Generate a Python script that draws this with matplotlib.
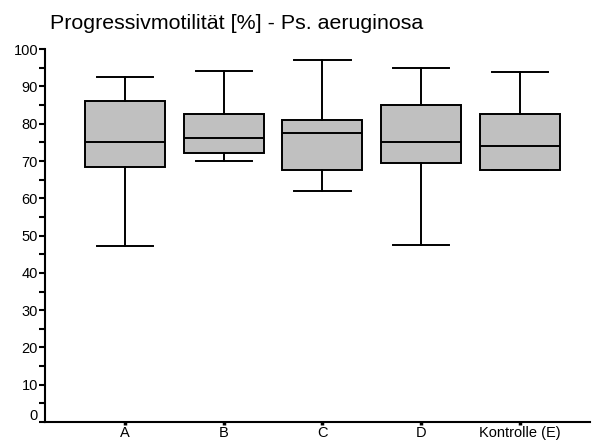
import matplotlib
matplotlib.use("Agg")
import matplotlib.pyplot as plt
import matplotlib.transforms as mtransforms

plt.rcParams['font.family'] = ['Liberation Sans', 'DejaVu Sans']

categories = ["A", "B", "C", "D", "Kontrolle (E)"]
whisker_low = [47.2, 70.0, 62.0, 47.5, 67.6]
q1 = [68.5, 72.1, 67.5, 69.6, 67.6]
median = [75.1, 76.1, 77.5, 75.1, 74.0]
q3 = [86.0, 82.6, 81.0, 85.0, 82.7]
whisker_high = [92.5, 94.1, 97.0, 95.0, 94.0]

stats = []
for i, c in enumerate(categories):
    stats.append(dict(label=c, whislo=whisker_low[i], q1=q1[i], med=median[i],
                      q3=q3[i], whishi=whisker_high[i], fliers=[]))

fig = plt.figure(figsize=(5.99, 4.43), dpi=100)
ax = fig.add_axes([0.0751, 0.0474, 0.9099, 0.8416])

lw = 1.4
ax.bxp(stats, positions=range(1, 6), widths=0.81, patch_artist=True,
       showfliers=False,
       boxprops=dict(facecolor='#c0c0c0', edgecolor='black', linewidth=lw),
       medianprops=dict(color='black', linewidth=lw),
       whiskerprops=dict(color='black', linewidth=lw),
       capprops=dict(color='black', linewidth=lw),
       capwidths=0.57)

ax.set_xlim(0.19, 5.71)
ax.set_ylim(0, 100)
ax.set_yticks(range(0, 101, 10))
ax.set_yticks(range(5, 100, 10), minor=True)
ax.set_xticks(range(1, 6))
ax.set_xticklabels(categories)

for s in ['top', 'right']:
    ax.spines[s].set_visible(False)
for s in ['left', 'bottom']:
    ax.spines[s].set_linewidth(1.5)

ax.tick_params(axis='y', which='major', direction='out', length=4, width=1.5,
               labelsize=10.5, pad=1)
ax.tick_params(axis='y', which='minor', direction='out', length=4, width=1.5)
ax.tick_params(axis='x', which='major', direction='out', length=2, width=2.5,
               labelsize=10.5, pad=1)

# lift the "0" label slightly like the reference
lbl0 = ax.get_yticklabels()[0]
lbl0.set_transform(lbl0.get_transform() +
                   mtransforms.ScaledTranslation(0, 8 / 100, fig.dpi_scale_trans))

fig.text(50 / 599, 1 - 29 / 443, "Progressivmotilität [%] - Ps. aeruginosa",
         fontsize=15.4, ha='left', va='baseline')

fig.savefig("out.png", dpi=100)
